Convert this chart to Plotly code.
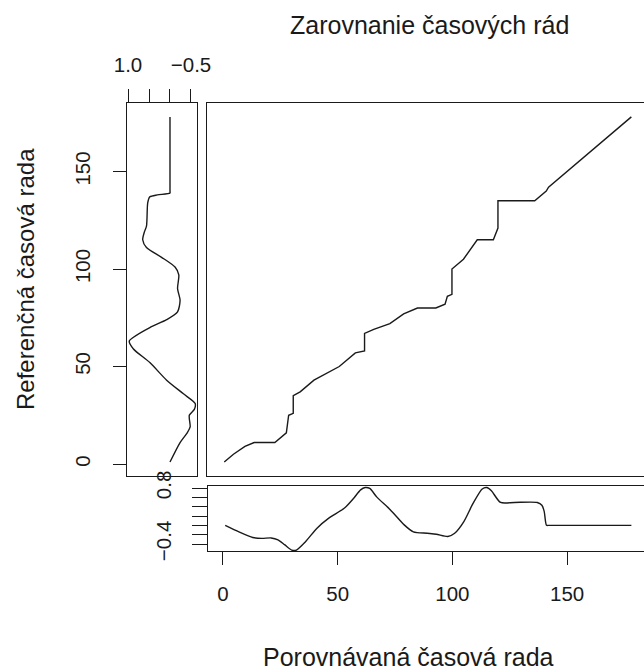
import plotly.graph_objects as go

# Query series (bottom panel): index and value
query_idx = [1, 7, 13, 17, 21, 24, 27, 30, 32, 36, 41, 46, 53, 57, 60, 62, 64, 67, 73, 79,
             83, 89, 93, 98, 101, 105, 109, 113, 115, 117, 121, 127, 137, 139, 140, 141, 142,
             160, 178]
query_val = [0.0, -0.14, -0.26, -0.28, -0.27, -0.31, -0.42, -0.53, -0.53, -0.35, -0.06, 0.15,
             0.37, 0.58, 0.76, 0.81, 0.79, 0.61, 0.33, 0.01, -0.14, -0.17, -0.19, -0.24, -0.17,
             0.08, 0.47, 0.78, 0.81, 0.74, 0.49, 0.49, 0.49, 0.43, 0.30, 0.0, 0.0, 0.0, 0.0]

# Reference series (left panel): index and value
ref_idx = [1, 11, 16, 19, 25, 28, 31, 36, 43, 52, 59, 63, 65, 70, 74, 78, 84, 90, 97, 101,
           106, 111, 115, 119, 122, 134, 137, 138, 139, 140, 160, 178]
ref_val = [0.0, -0.24, -0.41, -0.48, -0.46, -0.58, -0.60, -0.32, 0.08, 0.48, 0.87, 0.97, 0.87,
           0.48, 0.08, -0.18, -0.24, -0.18, -0.21, -0.12, 0.20, 0.56, 0.65, 0.61, 0.56, 0.53,
           0.48, 0.30, 0.0, 0.0, 0.0, 0.0]

# Warping path: query index vs reference index
path_q = [1, 5, 10, 14, 23, 28, 29, 31, 31, 34, 40, 51, 58, 62, 62, 66, 73, 79, 85, 93, 97,
          98, 100, 100, 105, 111, 118, 120, 120, 136, 141, 142, 178]
path_r = [1, 5, 9, 11, 11, 16, 25, 26, 35, 37, 43, 50, 57, 58, 67, 69, 72, 77, 80, 80, 82,
          86, 87, 100, 105, 115, 115, 121, 135, 135, 140, 142, 178]

idx_ticks = [0, 50, 100, 150]
qval_ticks = [0.8, 0.6, 0.4, 0.2, 0.0, -0.2, -0.4]
qval_text = ["0.8", "", "", "", "", "", "\u22120.4"]
rval_ticks = [1.0, 0.5, 0.0, -0.5]
rval_text = ["1.0", "", "", "\u22120.5"]

title = "Zarovnanie časových rád"
xlab = "Porovnávaná časová rada"
ylab = "Referenčná časová rada"

W, H = 644, 670
FONT = "Liberation Sans, Arial, Helvetica, sans-serif"
INK = "#1a1a1a"


def fx(px):
    return px / W


def fy(py):
    return 1 - py / H


line = dict(color=INK, width=1.4)
curve = dict(color=INK, width=1.4, shape="spline", smoothing=0.7)

fig = go.Figure()
fig.add_trace(go.Scatter(x=path_q, y=path_r, mode="lines", line=line,
                         xaxis="x", yaxis="y", showlegend=False))
fig.add_trace(go.Scatter(x=query_idx, y=query_val, mode="lines", line=curve,
                         xaxis="x2", yaxis="y2", showlegend=False))
fig.add_trace(go.Scatter(x=ref_val, y=ref_idx, mode="lines", line=curve,
                         xaxis="x3", yaxis="y3", showlegend=False))

idx_range_x = [-6.5, 183.5]
idx_range_y = [-6.15, 185.13]
main_xdom = [fx(207), 1.0]
main_ydom = [fy(476), fy(103)]

axis_common = dict(showgrid=False, zeroline=False, automargin=False,
                   linecolor=INK, linewidth=1.3, tickcolor=INK, tickwidth=1.3,
                   tickfont=dict(family=FONT, size=20.5, color=INK))

fig.update_layout(
    template="none",
    width=W, height=H,
    margin=dict(l=0, r=0, t=0, b=0, pad=0),
    paper_bgcolor="white", plot_bgcolor="white",
    font=dict(family=FONT, color=INK),
    xaxis=dict(domain=main_xdom, range=idx_range_x, anchor="y", showticklabels=False,
               ticks="", showline=True, mirror=True, **axis_common),
    yaxis=dict(domain=main_ydom, range=idx_range_y, anchor="x", showticklabels=False,
               ticks="", showline=True, mirror=False, **axis_common),
    xaxis2=dict(domain=[fx(208), 1.0], range=idx_range_x, anchor="y2",
                tickvals=idx_ticks, ticks="outside", ticklen=13,
                ticklabelstandoff=11, showline=True, mirror=True, **axis_common),
    yaxis2=dict(domain=[fy(551), fy(486)], range=[-0.55, 0.843], anchor="x2",
                tickvals=qval_ticks, ticktext=qval_text, tickangle=-90,
                ticks="outside", ticklen=15, ticklabelstandoff=13,
                showline=True, mirror=False, **axis_common),
    xaxis3=dict(domain=[fx(126.7), fx(196.7)], range=[1.031, -0.636], anchor="y3",
                side="top", tickvals=rval_ticks, ticktext=rval_text,
                ticks="outside", ticklen=13, ticklabelstandoff=9,
                showline=True, mirror=True, **axis_common),
    yaxis3=dict(domain=main_ydom, range=idx_range_y, anchor="x3",
                tickvals=idx_ticks, tickangle=-90, ticks="outside", ticklen=13,
                ticklabelstandoff=14, showline=True, mirror=True, **axis_common),
)

fig.add_annotation(text=title, x=fx(429), y=fy(25), xref="paper", yref="paper",
                   xanchor="center", yanchor="middle", showarrow=False,
                   font=dict(family=FONT, size=25, color=INK))
fig.add_annotation(text=xlab, x=fx(408), y=fy(657), xref="paper", yref="paper",
                   xanchor="center", yanchor="middle", showarrow=False,
                   font=dict(family=FONT, size=25, color=INK))
fig.add_annotation(text=ylab, x=fx(25), y=fy(279), xref="paper", yref="paper",
                   xanchor="center", yanchor="middle", showarrow=False, textangle=-90,
                   font=dict(family=FONT, size=24, color=INK))

fig.write_html("out.html")
